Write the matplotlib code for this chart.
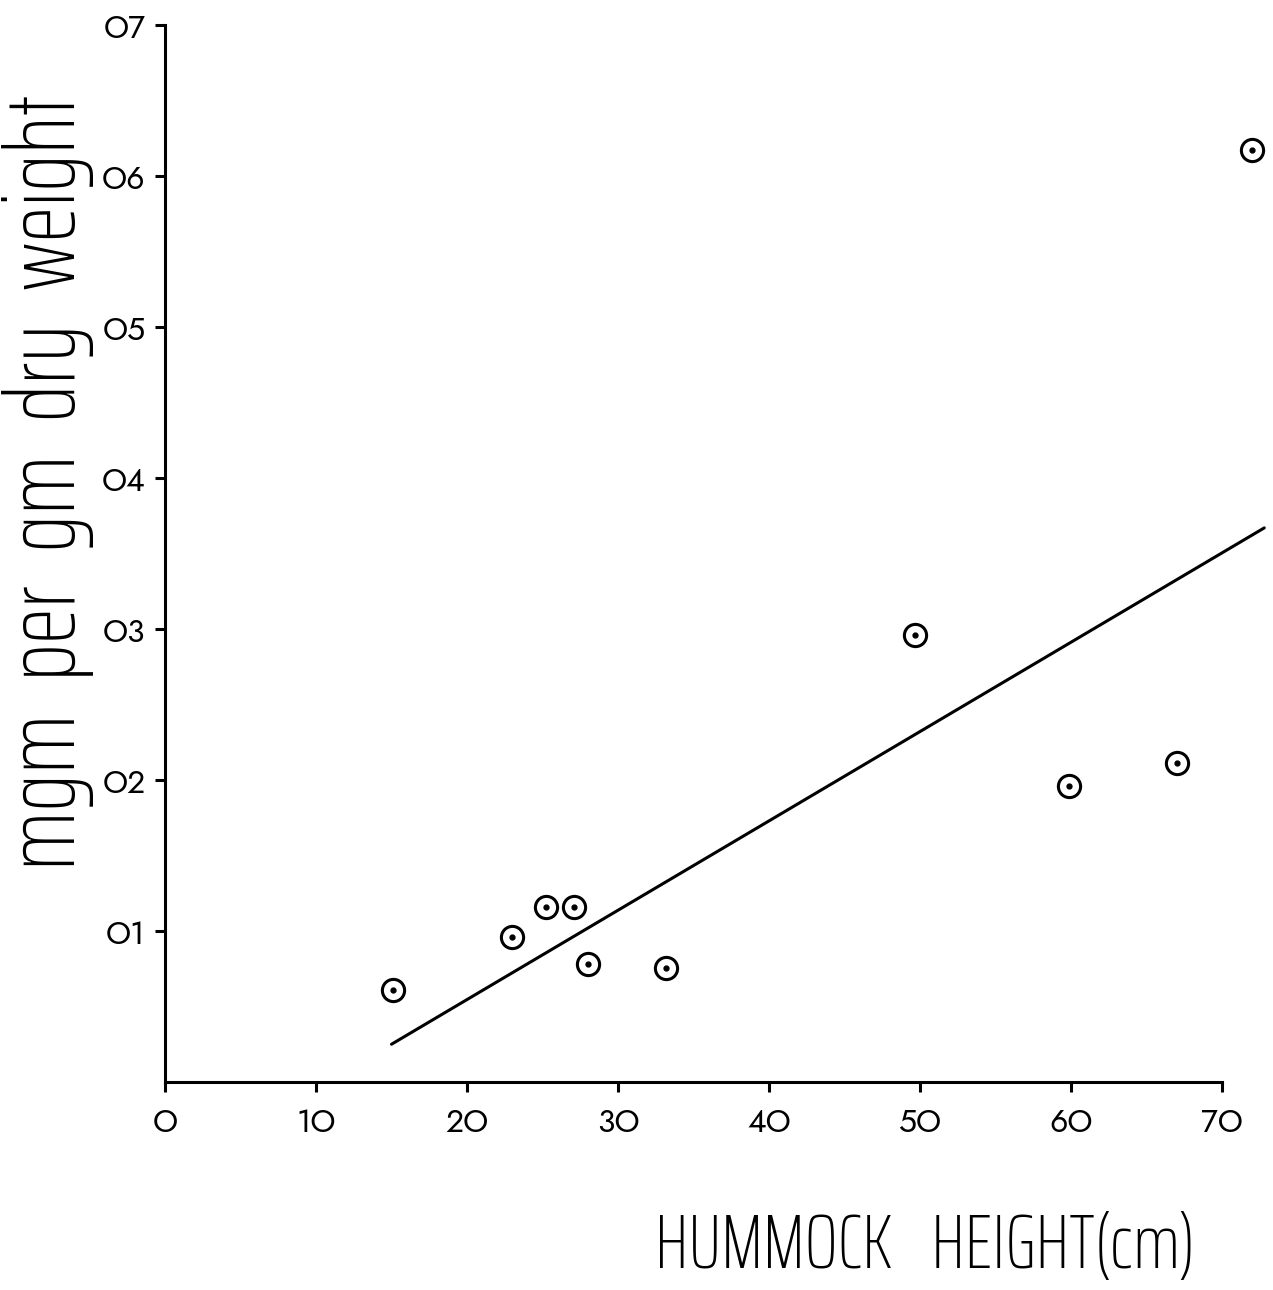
import matplotlib
matplotlib.use('Agg')
import matplotlib.pyplot as plt

# data
hummock_height = [15.1, 23.0, 25.2, 27.1, 28.0, 33.2, 49.7, 59.9, 67.0, 72.0]
mgm_per_gm = [0.061, 0.096, 0.116, 0.116, 0.078, 0.0755, 0.296, 0.196, 0.211, 0.617]

# hand-drawn regression line (end points)
fit_x = [15.0, 72.8]
fit_y = [0.025, 0.367]

x_ticks = [0, 10, 20, 30, 40, 50, 60, 70]
x_ticklabels = ['O', '1O', '2O', '3O', '4O', '5O', '6O', '7O']
y_ticks = [0.1, 0.2, 0.3, 0.4, 0.5, 0.6, 0.7]
y_ticklabels = ['O1', 'O2', 'O3', 'O4', 'O5', 'O6', 'O7']

tick_font = ['Jost', 'DejaVu Sans']
label_font = ['Saira ExtraCondensed', 'DejaVu Sans']

fig = plt.figure(figsize=(12.73, 12.90), dpi=100)
ax = fig.add_axes([165 / 1273, 1 - 1082 / 1290, 1102.3 / 1273, 1072 / 1290])

ax.plot(fit_x, fit_y, color='black', linewidth=2.2, solid_capstyle='round')
ax.plot(hummock_height, mgm_per_gm, linestyle='none', marker='o', markersize=16,
        markerfacecolor='white', markeredgecolor='black', markeredgewidth=2.2)
ax.plot(hummock_height, mgm_per_gm, linestyle='none', marker='o', markersize=3.5,
        color='black')

ax.set_xlim(0, 73)
ax.set_ylim(0, 0.71)

for s in ['top', 'right']:
    ax.spines[s].set_visible(False)
ax.spines['bottom'].set_bounds(0, 70)
ax.spines['left'].set_bounds(0, 0.7)
ax.spines['bottom'].set_linewidth(2.2)
ax.spines['left'].set_linewidth(2.2)

ax.set_xticks(x_ticks)
ax.set_xticklabels(x_ticklabels, family=tick_font, fontsize=23, fontweight='medium')
ax.set_yticks(y_ticks)
ax.set_yticklabels(y_ticklabels, family=tick_font, fontsize=23, fontweight='medium')
ax.tick_params(axis='both', direction='out', length=7, width=2.2, pad=7)
ax.tick_params(axis='x', pad=11)

xlab = fig.text(925 / 1273, 1 - 1268 / 1290, 'HUMMOCK   HEIGHT(cm)', family=label_font,
                fontsize=60, fontweight='light', ha='center', va='baseline')
ylab = fig.text(48 / 1273, 1 - 482 / 1290, 'mgm  per  gm  dry  weight', family=label_font,
                fontsize=60, fontweight='light', ha='center', va='center', rotation=90)

# scale the two hand-lettered labels to the length they have on the sheet
fig.canvas.draw()
r = fig.canvas.get_renderer()
w = xlab.get_window_extent(r).width
xlab.set_fontsize(60 * 540 / w)
h = ylab.get_window_extent(r).height
ylab.set_fontsize(60 * 775 / h)

fig.savefig('out.png', dpi=100, facecolor='white')
